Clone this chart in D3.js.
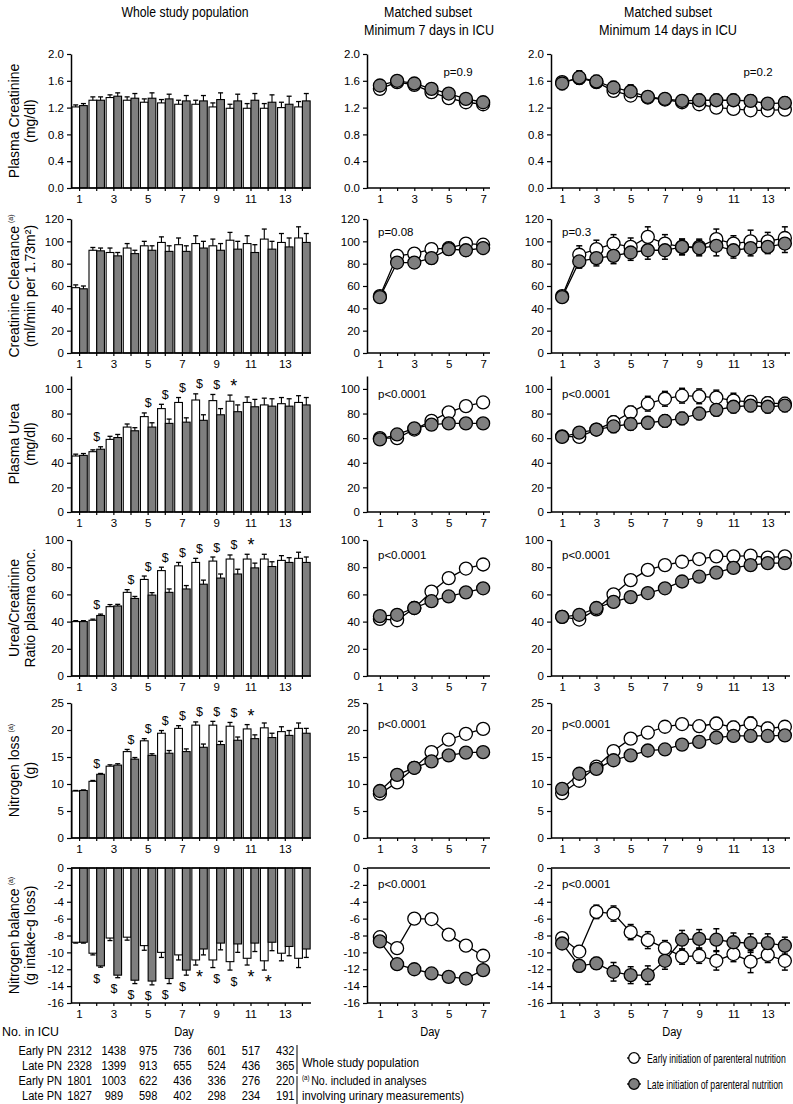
<!DOCTYPE html>
<html><head><meta charset="utf-8">
<script src="https://cdn.jsdelivr.net/npm/d3@7"></script>
<style>
body{margin:0;background:#fff;}
svg text{font-family:"Liberation Sans", Arial, Helvetica, sans-serif;}
</style></head><body>
<svg id="c" width="793" height="1104"></svg>
<script>
// ---------------- DATA ----------------
const days14 = [1,2,3,4,5,6,7,8,9,10,11,12,13,14];
const days7 = [1,2,3,4,5,6,7];

// Row 1: Plasma creatinine (mg/dl)
const creaTicks = [0,0.4,0.8,1.2,1.6,2.0];
const creaAllEarly = [1.21,1.31,1.35,1.31,1.28,1.27,1.25,1.25,1.21,1.19,1.19,1.19,1.20,1.21];
const creaAllLate  = [1.23,1.31,1.37,1.34,1.34,1.33,1.30,1.30,1.32,1.30,1.31,1.28,1.25,1.30];
const creaAllEarlyErr = [0.03,0.05,0.04,0.05,0.05,0.05,0.06,0.06,0.06,0.06,0.07,0.07,0.08,0.08];
const creaAllLateErr  = [0.03,0.05,0.05,0.07,0.08,0.07,0.08,0.08,0.10,0.10,0.10,0.11,0.12,0.11];
const crea7Early = [1.48,1.58,1.54,1.43,1.34,1.28,1.25];
const crea7Late  = [1.53,1.60,1.56,1.48,1.41,1.33,1.28];
const crea7EarlyErr = [0.05,0.06,0.06,0.06,0.05,0.05,0.05];
const crea7LateErr  = [0.05,0.06,0.06,0.06,0.06,0.06,0.06];
const crea14Early = [1.58,1.64,1.58,1.45,1.38,1.35,1.32,1.28,1.25,1.20,1.18,1.16,1.16,1.17];
const crea14Late  = [1.56,1.65,1.59,1.50,1.44,1.36,1.33,1.30,1.31,1.31,1.31,1.30,1.26,1.27];
const crea14EarlyErr = [0.08,0.09,0.08,0.08,0.08,0.07,0.07,0.07,0.07,0.07,0.07,0.07,0.07,0.07];
const crea14LateErr  = [0.09,0.10,0.09,0.09,0.10,0.08,0.08,0.08,0.09,0.09,0.09,0.09,0.08,0.09];

// Row 2: Creatinine clearance (ml/min per 1.73m2)
const clearTicks = [0,20,40,60,80,100,120];
const clearAllEarly = [58.5,92,90,94,96,99,97,98,96,101,98,102,99,103];
const clearAllLate  = [57.5,91.5,87,89,92,91,91,94,92,93,90,93,95,99];
const clearAllEarlyErr = [2.5,2.5,4,4,4,5,6,7,6,7,7,9,8,10];
const clearAllLateErr  = [2.5,2.5,3,3,4,5,5,6,6,7,7,7,8,8];
const clear7Early = [51,87,89,93,94,98,97];
const clear7Late  = [50,81,81,85,93,92,94];
const clear7EarlyErr = [3,5,5,5,5,5,5];
const clear7LateErr  = [3,5,5,5,5,5,5];
const clear14Early = [51,88,93,98,95,104,98,95,95,102,98,100,100,103];
const clear14Late  = [50,82,85,87,90,92,92,95,94,96,92,94,95,98];
const clear14EarlyErr = [4,8,8,8,8,9,8,7,7,9,7,10,8,10];
const clear14LateErr  = [4,6,7,7,7,8,8,7,7,9,7,7,6,8];

// Row 3: Plasma urea (mg/dl)
const ureaTicks = [0,20,40,60,80,100];
const ureaAllEarly = [45.5,49,59,69,77.5,84,89,91,90.5,90,89,87,88,89];
const ureaAllLate  = [46,51,60.5,66,69,72,73,74.5,79,81.5,85.5,86,86,87];
const ureaAllEarlyErr = [1.5,1.5,2.5,2.5,3,3.5,4,5,5,5,4.5,5.5,5,5.5];
const ureaAllLateErr  = [1.5,2,2.5,2.5,3.5,3.5,3.5,4.5,5,5.5,6,6,6,6];
const ureaSig = ['','$','','','$','$','$','$','$','*','','','',''];
const urea7Early = [60,60,67,74,81,86,89];
const urea7Late  = [59,63,68,71,72,72,72];
const urea7EarlyErr = [2,3,3,3,3,3,3];
const urea7LateErr  = [2,3,3,3,3,3,3];
const urea14Early = [61.5,61,67,73,81,88,92,94.5,94,93,90.5,89.5,88.5,88];
const urea14Late  = [61,64.5,67,69.5,71.5,72.5,74,76,80,83,85.5,86.5,85.5,86.5];
const urea14EarlyErr = [4,4,4,5,5,6,6,6,6,6,6,5,5,5];
const urea14LateErr  = [4,4,4,5,5,5,5,5,5,5,5,5,5,5];

// Row 4: Urea/Creatinine ratio
const ratioTicks = [0,20,40,60,80,100];
const ratioAllEarly = [40,41,51,61.5,71,77.5,81,83.5,84.5,86,86,86,85,86.5];
const ratioAllLate  = [40,44.5,51.5,57,59.5,61.5,64,67.5,72,75,79.5,80.5,83.5,83.5];
const ratioAllEarlyErr = [0.7,0.8,1.5,2,2.5,2.5,2.5,3,3,3,3.5,3.5,3.5,4.5];
const ratioAllLateErr  = [0.7,1,1.2,1.5,1.8,2.5,2.5,3,3,3.5,3.5,3.5,3.5,4];
const ratioSig = ['','$','','$','$','$','$','$','$','$','*','','',''];
const ratio7Early = [42,41,50,62,72,79,82];
const ratio7Late  = [44,45,50,55,58.5,61.5,64.5];
const ratio7EarlyErr = [2,2,2,2,2,2,2];
const ratio7LateErr  = [2,2,2,2,2,2,2];
const ratio14Early = [43.5,41.5,49,60,70.5,78,81.5,84,86,88,88,88.5,87,88];
const ratio14Late  = [43.5,45,50,54.5,58,61,64.5,69.5,73,76,79.5,81.5,83,83];
const ratio14EarlyErr = [2,2,2,3,3,3,3,3,3,3,3,3,3,3];
const ratio14LateErr  = [2,2,2,3,3,3,3,3,3,3,3,3,3,3];

// Row 5: Nitrogen loss (g)
const nlossTicks = [0,5,10,15,20,25];
const nlossAllEarly = [8.7,10.5,13.3,16,18,19.4,20.3,20.9,20.9,20.7,20.2,20.4,19.7,20.3];
const nlossAllLate  = [8.8,11.8,13.5,14.6,15.3,15.7,16,16.8,17.3,18.1,18.4,18.6,19,19.4];
const nlossAllEarlyErr = [0.1,0.15,0.25,0.4,0.4,0.5,0.5,0.6,0.7,0.7,0.8,0.9,0.9,1];
const nlossAllLateErr  = [0.1,0.15,0.25,0.3,0.3,0.5,0.5,0.6,0.6,0.6,0.7,0.8,0.9,0.9];
const nlossSig = ['','$','','$','$','$','$','$','$','$','*','','',''];
const nloss7Early = [8.2,10.3,13,15.9,18.2,19.3,20.2];
const nloss7Late  = [8.7,11.7,13,14.2,15.3,15.8,15.9];
const nloss7EarlyErr = [0.4,0.5,0.5,0.6,0.6,0.6,0.6];
const nloss7LateErr  = [0.4,0.5,0.5,0.6,0.6,0.6,0.6];
const nloss14Early = [8.3,10.6,13.2,16.1,18.4,19.5,20.6,21.1,20.7,21.2,20.5,21.2,20.3,20.6];
const nloss14Late  = [9.1,11.9,12.8,14.4,15.3,16.2,16.4,17.3,17.8,18.6,18.9,18.9,18.9,19.0];
const nloss14EarlyErr = [0.6,0.6,0.7,0.8,0.8,0.9,0.9,1,1,1.1,1.1,1.2,1.1,1.1];
const nloss14LateErr  = [0.6,0.6,0.7,0.8,0.8,0.9,0.9,1,1,1,1,1,1,1];

// Row 6: Nitrogen balance (g intake - g loss)
const nbalTicks = [-16,-14,-12,-10,-8,-6,-4,-2,0];
const nbalAllEarly = [-8.8,-10.1,-8.3,-8.2,-9.2,-10.0,-10.3,-10.9,-10.9,-11.1,-10.7,-11.0,-10.1,-10.7];
const nbalAllLate  = [-8.8,-11.6,-12.7,-13.3,-13.4,-13.1,-12.1,-9.6,-8.9,-9.0,-8.9,-8.8,-9.3,-9.6];
const nbalAllEarlyErr = [0.1,0.2,0.3,0.35,0.55,0.6,0.6,0.6,0.9,1.0,0.8,1.1,0.9,1.1];
const nbalAllLateErr  = [0.1,0.15,0.3,0.4,0.45,0.6,0.6,0.7,0.8,1.0,1.0,1.0,1.1,1.0];
const nbalSig = ['','$','$','$','$','$','$','*','$','$','*','*','',''];
const nbal7Early = [-8.2,-9.5,-6.0,-6.05,-7.9,-9.2,-10.4];
const nbal7Late  = [-8.7,-11.4,-12.0,-12.5,-12.9,-13.1,-12.1];
const nbal7EarlyErr = [0.3,0.4,0.4,0.5,0.5,0.5,0.6];
const nbal7LateErr  = [0.3,0.4,0.5,0.5,0.5,0.5,0.6];
const nbal14Early = [-8.3,-9.9,-5.2,-5.4,-7.6,-8.55,-9.5,-10.5,-10.4,-11.0,-10.2,-11.1,-10.3,-11.0];
const nbal14Late  = [-8.95,-11.6,-11.3,-12.3,-12.7,-12.7,-11.0,-8.5,-8.4,-8.5,-8.8,-8.9,-8.9,-9.2];
const nbal14EarlyErr = [0.3,0.7,0.8,0.9,0.9,1,0.9,0.9,0.9,1.1,0.9,1.3,0.9,1.1];
const nbal14LateErr  = [0.4,0.7,0.7,1.1,1,1.1,1,1.1,1.1,1.3,1.1,1.1,1.1,1];

// p-values
const pValues7  = ['p=0.9','p=0.08','p<0.0001','p<0.0001','p<0.0001','p<0.0001'];
const pValues14 = ['p=0.2','p=0.3','p<0.0001','p<0.0001','p<0.0001','p<0.0001'];

// Numbers at risk table
const tableDays = [1,3,5,7,9,11,13];
const tableRowLabels = ['Early PN','Late PN','Early PN','Late PN'];
const icuEarlyAll = [2312,1438,975,736,601,517,432];
const icuLateAll  = [2328,1399,913,655,524,436,365];
const icuEarlyUrine = [1801,1003,622,436,336,276,220];
const icuLateUrine  = [1827,989,598,402,298,234,191];

// ---------------- DRAWING ----------------
const SANS = '"Liberation Sans", Arial, Helvetica, sans-serif';
const GREY = '#7f7f7f';
const svg = d3.select('#c');

const rowGeom = [
  {top:54, bottom:188, domain:[0,2]},
  {top:219, bottom:353, domain:[0,120]},
  {top:376, bottom:512, domain:[0,110.5]},
  {top:540, bottom:676, domain:[0,100]},
  {top:703, bottom:838, domain:[0,25]},
  {top:868, bottom:1003, domain:[-16,0]}
];
const rowTicks = [creaTicks, clearTicks, ureaTicks, ratioTicks, nlossTicks, nbalTicks];
const rowFmt = [d3.format('.1f'), d=>String(d), d=>String(d), d=>String(d), d=>String(d), d=>String(d)];
const rowTitles = [
  ['Plasma Creatinine','(mg/dl)', false],
  ['Creatinine Clearance','(ml/min per 1.73m²)', true],
  ['Plasma Urea','(mg/dl)', false],
  ['Urea/Creatinine','Ratio plasma conc.', false],
  ['Nitrogen loss','(g)', true],
  ['Nitrogen balance','(g intake-g loss)', true]
];
const allData = [
  [creaAllEarly, creaAllLate, creaAllEarlyErr, creaAllLateErr, null],
  [clearAllEarly, clearAllLate, clearAllEarlyErr, clearAllLateErr, null],
  [ureaAllEarly, ureaAllLate, ureaAllEarlyErr, ureaAllLateErr, ureaSig],
  [ratioAllEarly, ratioAllLate, ratioAllEarlyErr, ratioAllLateErr, ratioSig],
  [nlossAllEarly, nlossAllLate, nlossAllEarlyErr, nlossAllLateErr, nlossSig],
  [nbalAllEarly, nbalAllLate, nbalAllEarlyErr, nbalAllLateErr, nbalSig]
];
const d7Data = [
  [crea7Early, crea7Late, crea7EarlyErr, crea7LateErr],
  [clear7Early, clear7Late, clear7EarlyErr, clear7LateErr],
  [urea7Early, urea7Late, urea7EarlyErr, urea7LateErr],
  [ratio7Early, ratio7Late, ratio7EarlyErr, ratio7LateErr],
  [nloss7Early, nloss7Late, nloss7EarlyErr, nloss7LateErr],
  [nbal7Early, nbal7Late, nbal7EarlyErr, nbal7LateErr]
];
const d14Data = [
  [crea14Early, crea14Late, crea14EarlyErr, crea14LateErr],
  [clear14Early, clear14Late, clear14EarlyErr, clear14LateErr],
  [urea14Early, urea14Late, urea14EarlyErr, urea14LateErr],
  [ratio14Early, ratio14Late, ratio14EarlyErr, ratio14LateErr],
  [nloss14Early, nloss14Late, nloss14EarlyErr, nloss14LateErr],
  [nbal14Early, nbal14Late, nbal14EarlyErr, nbal14LateErr]
];

const xBand = d3.scaleBand().domain(days14).range([71,311]).paddingInner(0.1).paddingOuter(0.05);
const xSub = d3.scaleBand().domain(['e','l']).range([0, xBand.bandwidth()]);
const x7 = d3.scaleLinear().domain([0.25,7.4]).range([367,490]);
const x14 = d3.scaleLinear().domain([0.35,14.3]).range([551,790]);

function styleAxis(g){
  g.attr('font-size',11.5).attr('font-family',SANS);
  g.select('.domain').attr('stroke','#000').attr('stroke-width',1.5);
  g.selectAll('.tick line').attr('stroke','#000').attr('stroke-width',1.2);
  g.selectAll('.tick text').attr('fill','#000');
}
function drawYAxis(x0, y, r){
  const g = svg.append('g').attr('transform',`translate(${x0},0)`)
    .call(d3.axisLeft(y).tickValues(rowTicks[r]).tickFormat(rowFmt[r]).tickSize(4).tickSizeOuter(0).tickPadding(3));
  styleAxis(g);
}
function drawXAxis(xs, days, yPos, x0, x1){
  const g = svg.append('g').attr('transform',`translate(0,${yPos})`)
    .call(d3.axisBottom(xs).tickValues(days).tickFormat(d=> d%2 ? d : '').tickSize(3).tickSizeOuter(0).tickPadding(4));
  styleAxis(g);
  g.select('.domain').attr('d',`M${x0},0H${x1}`);
}
// condensed text (Arial Narrow look): horizontally scaled Liberation Sans
function narrowText(x, y, txt, size, anchor, len, sx){
  const k = sx || 0.82;
  const g = svg.append('g').attr('transform',`translate(${x},${y}) scale(${k},1)`);
  const t = g.append('text').attr('x',0).attr('y',0).attr('font-family',SANS).attr('font-size',size)
    .attr('text-anchor',anchor||'middle').text(txt);
  if (len) t.attr('textLength',len/k).attr('lengthAdjust','spacingAndGlyphs');
  return t;
}

rowGeom.forEach((rg, r) => {
  const y = d3.scaleLinear().domain(rg.domain).range([rg.bottom, rg.top]);
  const neg = rg.domain[1] === 0;
  const axisY = neg ? y(rg.domain[0]) : y(0);

  // ---- Left: bar panel ----
  const [eV, lV, eE, lE, sig] = allData[r];
  const bars = svg.append('g');
  const groups = days14.map((d,i)=>({d, e:eV[i], l:lV[i], ee:eE[i], le:lE[i], s: sig ? sig[i] : ''}));
  groups.forEach(gd => {
    [['e',gd.e,gd.ee,'#fff'],['l',gd.l,gd.le,GREY]].forEach(([k,v,err,fill]) => {
      const bx = xBand(gd.d) + xSub(k);
      const bw = xSub.bandwidth();
      const y0 = y(0), y1 = y(v);
      bars.append('rect').attr('x',bx).attr('y',Math.min(y0,y1)).attr('width',bw).attr('height',Math.abs(y1-y0))
        .attr('fill',fill).attr('stroke','#000').attr('stroke-width',1.1);
      const ye = neg ? y(v-err) : y(v+err);
      const cx = bx + bw/2;
      bars.append('line').attr('x1',cx).attr('x2',cx).attr('y1',y1).attr('y2',ye).attr('stroke','#000').attr('stroke-width',1.1);
      bars.append('line').attr('x1',cx-2.5).attr('x2',cx+2.5).attr('y1',ye).attr('y2',ye).attr('stroke','#000').attr('stroke-width',1.3);
    });
    if (gd.s) {
      const cx = xBand(gd.d) + xBand.bandwidth()/2;
      let cy;
      if (neg) cy = y(Math.min(gd.e-gd.ee, gd.l-gd.le)) + 11;
      else cy = y(Math.max(gd.e+gd.ee, gd.l+gd.le)) - 10;
      const isStar = gd.s === '*';
      svg.append('text').attr('x',cx).attr('y', isStar ? cy+7 : cy+4.5).attr('text-anchor','middle')
        .attr('font-family',SANS).attr('font-size', isStar ? 18 : 12.5).attr('fill','#000').text(gd.s);
    }
  });
  if (neg) svg.append('line').attr('x1',71).attr('x2',311).attr('y1',y(0)).attr('y2',y(0)).attr('stroke','#000').attr('stroke-width',1.5);
  drawYAxis(71, y, r);
  drawXAxis(xBand, days14, axisY, 71, 311);

  // y title
  const [t1, t2, sup] = rowTitles[r];
  const cyT = (rg.top + rg.bottom)/2;
  const tt = svg.append('text').attr('transform',`translate(19,${cyT}) rotate(-90)`).attr('text-anchor','middle')
    .attr('font-family',SANS).attr('font-size',14).text(t1);
  if (sup) tt.append('tspan').attr('font-size',7).attr('dy',-6).attr('dx',3).text('(a)');
  svg.append('text').attr('transform',`translate(35,${cyT}) rotate(-90)`).attr('text-anchor','middle')
    .attr('font-family',SANS).attr('font-size',14).text(t2);

  // ---- Line panels ----
  [[x7, days7, d7Data[r], 367, 490, pValues7[r]], [x14, days14, d14Data[r], 551, 790, pValues14[r]]].forEach(([xs, days, dd, x0, x1, pv]) => {
    const [ev, lv, ee, le] = dd;
    const g = svg.append('g');
    const series = [[ev, ee, '#fff'], [lv, le, GREY]];
    const line = d3.line().x((v,i)=>xs(days[i])).y(v=>y(v));
    series.forEach(([vals]) => {
      g.append('path').attr('d', line(vals)).attr('fill','none').attr('stroke','#000').attr('stroke-width',1.3);
    });
    series.forEach(([vals, errs]) => {
      vals.forEach((v,i) => {
        const cx = xs(days[i]);
        const ya = y(v+errs[i]), yb = y(v-errs[i]);
        g.append('line').attr('x1',cx).attr('x2',cx).attr('y1',ya).attr('y2',yb).attr('stroke','#000').attr('stroke-width',1.3);
        [ya,yb].forEach(yy => g.append('line').attr('x1',cx-3).attr('x2',cx+3).attr('y1',yy).attr('y2',yy).attr('stroke','#000').attr('stroke-width',1.5));
      });
    });
    series.forEach(([vals, errs, fill]) => {
      vals.forEach((v,i) => {
        g.append('circle').attr('cx',xs(days[i])).attr('cy',y(v)).attr('r',6.5)
          .attr('fill',fill).attr('stroke','#000').attr('stroke-width',1.3);
      });
    });
    if (neg) svg.append('line').attr('x1',x0).attr('x2',x1).attr('y1',y(0)).attr('y2',y(0)).attr('stroke','#000').attr('stroke-width',1.5);
    drawYAxis(x0, y, r);
    drawXAxis(xs, days, axisY, x0, x1);
    // p-value
    const pOff = [18, 13, 18, 15, 21, 16][r];
    const pt = svg.append('text').attr('font-family',SANS).attr('font-size',11.5).attr('y', rg.top + pOff + 4);
    if (r === 0) pt.attr('x', x1 - 32).attr('text-anchor','middle');
    else pt.attr('x', x0 + 11).attr('text-anchor','start');
    pt.text(pv);
  });
});

// ---- Headers ----
narrowText(185, 17, 'Whole study population', 14.5, 'middle', 127);
narrowText(428, 17, 'Matched subset', 14.5, 'middle', 88);
narrowText(429, 35, 'Minimum 7 days in ICU', 14.5, 'middle', 130);
narrowText(668, 17, 'Matched subset', 14.5, 'middle', 88);
narrowText(668, 35, 'Minimum 14 days in ICU', 14.5, 'middle', 138);

// ---- Day labels ----
narrowText(184, 1036, 'Day', 13.5, 'middle');
narrowText(430, 1036, 'Day', 13.5, 'middle');
narrowText(672, 1036, 'Day', 13.5, 'middle');

// ---- Table ----
narrowText(2, 1036, 'No. in ICU', 13.5, 'start', 57);
const tableRows = [icuEarlyAll, icuLateAll, icuEarlyUrine, icuLateUrine];
const tableY = [1055, 1070, 1085, 1100];
tableRows.forEach((vals, ri) => {
  narrowText(62, tableY[ri], tableRowLabels[ri], 13.5, 'end');
  vals.forEach((v,i) => narrowText(xBand(tableDays[i]) + xBand.bandwidth()/2, tableY[ri], String(v), 13.5, 'middle'));
});
svg.append('line').attr('x1',297).attr('x2',297).attr('y1',1045).attr('y2',1074).attr('stroke','#000').attr('stroke-width',1);
narrowText(302, 1067, 'Whole study population', 13, 'start', 117);
svg.append('line').attr('x1',297).attr('x2',297).attr('y1',1076).attr('y2',1104).attr('stroke','#000').attr('stroke-width',1);
const naG = svg.append('g').attr('transform','translate(302,1085) scale(0.82,1)');
const na = naG.append('text').attr('font-family',SANS).attr('font-size',13);
na.append('tspan').attr('font-size',7.5).attr('dy',-5).text('(a)');
na.append('tspan').attr('dy',5).attr('dx',2).text('No. included in analyses');
narrowText(302, 1100, 'involving urinary measurements)', 13, 'start', 162);

// ---- Legend ----
const legendItems = [['Early initiation of parenteral nutrition','#fff'],['Late initiation of parenteral nutrition',GREY]];
const legendY = [1058, 1084];
legendItems.forEach(([txt, fill], i) => {
  const ly = legendY[i];
  svg.append('line').attr('x1',627).attr('x2',641).attr('y1',ly).attr('y2',ly).attr('stroke','#000').attr('stroke-width',1.3);
  svg.append('circle').attr('cx',634).attr('cy',ly).attr('r',5.3).attr('fill',fill).attr('stroke','#000').attr('stroke-width',1.3);
  narrowText(647, ly+4.5, txt, 13, 'start', null, 0.67);
});
</script>
</body></html>
